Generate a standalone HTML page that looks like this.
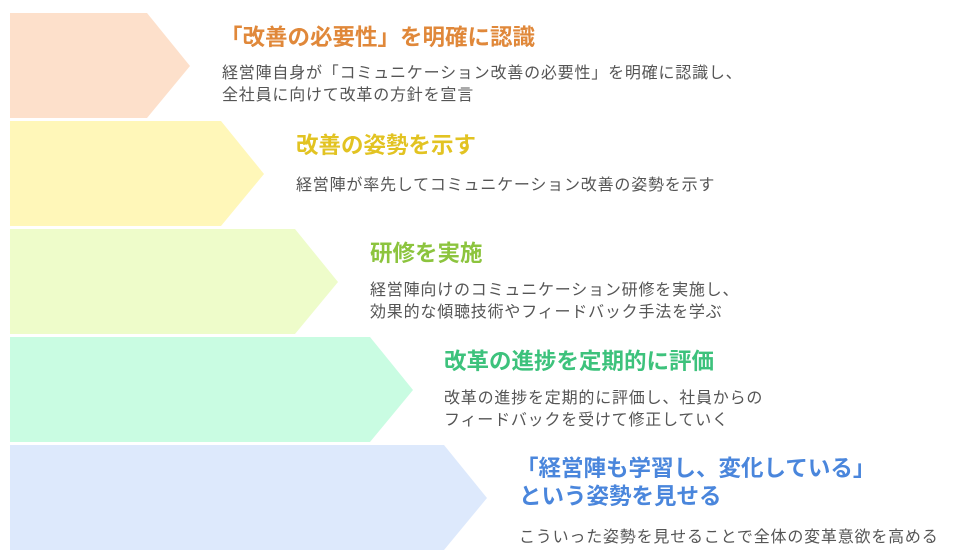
<!DOCTYPE html>
<html><head><meta charset="utf-8"><style>
body{margin:0;width:960px;height:558px;background:#fff;position:relative;overflow:hidden;font-family:"Liberation Sans","Noto Sans CJK JP",sans-serif}
.t{position:absolute;font-weight:bold;font-size:22.5px;line-height:28px;white-space:nowrap}
.d{position:absolute;font-size:16px;letter-spacing:0.8px;line-height:22px;color:#555;white-space:nowrap}
svg{position:absolute;left:0;top:0}
</style></head><body>
<svg width="960" height="558">
<polygon points="10,13 147,13 190,66 147,118 10,118" fill="#fde0cb"/>
<polygon points="10,121 221,121 264,174 221,226 10,226" fill="#fff7b9"/>
<polygon points="10,229 295,229 338,282 295,334 10,334" fill="#eefcca"/>
<polygon points="10,337 370,337 413,390 370,442 10,442" fill="#c9fce2"/>
<polygon points="10,445 444,445 487,498 444,550 10,550" fill="#dde9fc"/>
</svg>
<div class="t" style="left:220px;top:24px;color:#e0883a">「改善の必要性」を明確に認識</div>
<div class="d" style="left:222px;top:63px">経営陣自身が「コミュニケーション改善の必要性」を明確に認識し、<br>全社員に向けて改革の方針を宣言</div>
<div class="t" style="left:296px;top:132px;color:#e2c322">改善の姿勢を示す</div>
<div class="d" style="left:296px;top:175px">経営陣が率先してコミュニケーション改善の姿勢を示す</div>
<div class="t" style="left:370px;top:240px;color:#8cc43e">研修を実施</div>
<div class="d" style="left:370px;top:280px">経営陣向けのコミュニケーション研修を実施し、<br>効果的な傾聴技術やフィードバック手法を学ぶ</div>
<div class="t" style="left:444px;top:348px;color:#3dc27c">改革の進捗を定期的に評価</div>
<div class="d" style="left:444px;top:388px">改革の進捗を定期的に評価し、社員からの<br>フィードバックを受けて修正していく</div>
<div class="t" style="left:516px;top:455px;color:#4a86dc">「経営陣も学習し、変化している」<br><span style="margin-left:3px">という姿勢を見せる</span></div>
<div class="d" style="left:519px;top:527px">こういった姿勢を見せることで全体の変革意欲を高める</div>
</body></html>
